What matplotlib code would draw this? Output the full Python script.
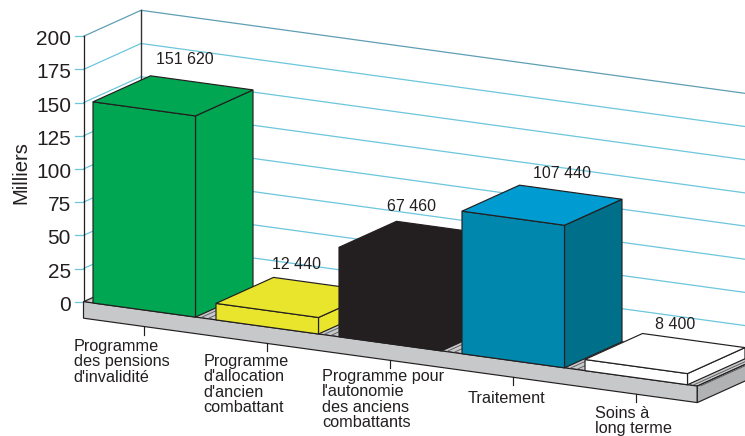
"""
Faux-3D bar chart of clients by programme (French labels).
The projection is done by hand so the chart sits on a pixel-sized axes.
"""

import matplotlib
matplotlib.use('Agg')
import matplotlib.pyplot as plt
from matplotlib.patches import Polygon

plt.rcParams['font.family'] = ['Liberation Sans', 'DejaVu Sans']

# Data
categories = [
    "Programme\ndes pensions\nd'invalidité",
    "Programme\nd'allocation\nd'ancien\ncombattant",
    "Programme pour\nl'autonomie\ndes anciens\ncombattants",
    "Traitement",
    "Soins à\nlong terme",
]
values = [151.62, 12.44, 67.46, 107.44, 8.40]
value_labels = ['151 620', '12 440', '67 460', '107 440', '8 400']
y_ticks = [0, 25, 50, 75, 100, 125, 150, 175, 200]

# Colours: front, top, side
bar_colors = [
    ('#00a651', '#00a651', '#00a651'),
    ('#e9e52c', '#e9e52c', '#e9e52c'),
    ('#231f20', '#231f20', '#231f20'),
    ('#0087ae', '#009bd0', '#006f8a'),
    ('#ffffff', '#ffffff', '#ffffff'),
]
DARK = '#231f20'
GRID = '#6cc6dc'
TOP_GRID = '#5f9fb4'

# Projection constants (pixels)
X0, Y0 = 83.5, 301.7
PX_PER_UNIT = 1.327
SLOPE = 0.1375
DEPTH_X, DEPTH_Y = 57.5, -26.0
FLOOR_H = 16.5
FLOOR_LEN = 613.8
BAR_W = 102.5
BAR_STEP = 123.0
BAR_START = 9.5


def proj(x, v=0.0, z=0.0):
    """x = pixels along front edge, v = value, z = 0 front to 1 back."""
    return (X0 + x + DEPTH_X * z,
            Y0 - PX_PER_UNIT * v + SLOPE * x + DEPTH_Y * z)


def face(ax, pts, color, z, edge=DARK, lw=0.85):
    ax.add_patch(Polygon(pts, closed=True, facecolor=color, edgecolor=edge,
                         linewidth=lw, joinstyle='miter', zorder=z))


fig = plt.figure(figsize=(7.45, 4.36), dpi=100)
ax = fig.add_axes([0, 0, 1, 1])
ax.set_xlim(0, 745)
ax.set_ylim(436, 0)
ax.axis('off')

# Walls and gridlines
for tick in y_ticks:
    col = TOP_GRID if tick == 200 else GRID
    fx, fy = proj(0, tick, 0)
    ax.plot([fx - 8.5, fx], [fy, fy], color=GRID, lw=0.9, zorder=1)
    ax.text(fx - 12.5, fy + 3.5, str(tick), ha='right', va='center',
            fontsize=15, color=DARK, zorder=50)
    if tick == 0:
        continue
    bx, by = proj(0, tick, 1)
    ex, ey = proj(FLOOR_LEN + 60, tick, 1)
    ax.plot([fx, bx, ex], [fy, by, ey], color=col, lw=0.9, zorder=1)

ax.plot([X0, X0], [proj(0, 200)[1], Y0], color=DARK, lw=0.9, zorder=2)
ax.plot([X0 + DEPTH_X] * 2, [proj(0, 200, 1)[1], proj(0, 0, 1)[1]], color='#333333', lw=1.0, zorder=2)

# Floor slab
floor_grey = '#c7c8ca'
face(ax, [proj(0), proj(FLOOR_LEN), proj(FLOOR_LEN, 0, 1), proj(0, 0, 1)], floor_grey, 3)
fl_front = proj(0)
fr_front = proj(FLOOR_LEN)
face(ax, [fl_front, fr_front, (fr_front[0], fr_front[1] + FLOOR_H),
          (fl_front[0], fl_front[1] + FLOOR_H)], floor_grey, 4)
fr_back = proj(FLOOR_LEN, 0, 1)
face(ax, [fr_front, fr_back, (fr_back[0], fr_back[1] + FLOOR_H),
          (fr_front[0], fr_front[1] + FLOOR_H)], '#b1b2b4', 4)

# Ticks below the slab
for i in range(len(categories)):
    tx, ty = proj(BAR_START + BAR_STEP * i + BAR_W / 2)
    ax.plot([tx, tx], [ty + FLOOR_H, ty + FLOOR_H + 8], color=DARK, lw=0.85, zorder=4)

# Bars, left to right so later ones overlap earlier ones
for i, (val, cols) in enumerate(zip(values, bar_colors)):
    xl = BAR_START + BAR_STEP * i
    xr = xl + BAR_W
    base = 10 + i * 5
    # thin floor marks beside the bar
    for d in (5, 12):
        p0 = proj(xr + d, 0, 0.02)
        p1 = proj(xr + d, 0, 1)
        ax.plot([p0[0], p1[0]], [p0[1], p1[1]], color='#55565a', lw=0.6, zorder=base - 1)
    front, top, side = cols
    face(ax, [proj(xr), proj(xr, 0, 1), proj(xr, val, 1), proj(xr, val)], side, base)
    face(ax, [proj(xl), proj(xr), proj(xr, val), proj(xl, val)], front, base + 1)
    face(ax, [proj(xl, val), proj(xr, val), proj(xr, val, 1), proj(xl, val, 1)], top, base + 1)

# Value labels
value_label_xy = [(185, 60), (296, 264.7), (411.3, 206.5), (562, 173.5), (675, 324.7)]
for txt, (lx, ly) in zip(value_labels, value_label_xy):
    ax.text(lx, ly, txt, ha='center', va='center', fontsize=11.5, color=DARK, zorder=50)

# Category labels
category_xy = [(73.5, 339), (203.3, 354), (322, 369), (467.7, 391), (594.7, 405.5)]
for txt, (lx, ly) in zip(categories, category_xy):
    ax.text(lx, ly, txt, ha='left', va='top', fontsize=11.7, color=DARK, linespacing=1.03, zorder=50)

ax.text(21, 173, 'Milliers', rotation=90, ha='center', va='center', fontsize=14.6, color=DARK, zorder=50)

plt.savefig('out.png', dpi=100)
